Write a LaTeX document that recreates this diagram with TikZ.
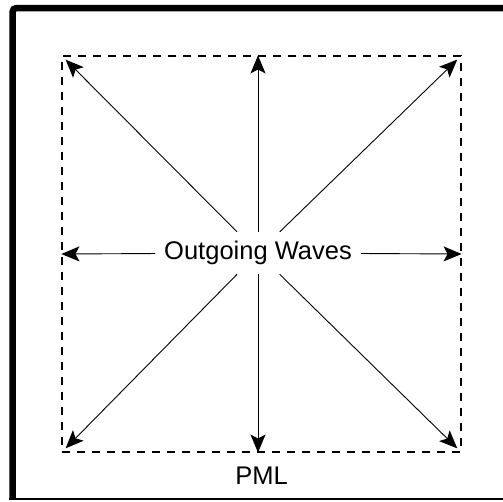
\documentclass[tikz,border=0pt]{standalone}
\usepackage{fontspec}
\setmainfont{Liberation Sans}
\usetikzlibrary{arrows.meta, positioning}

\begin{document}
\begin{tikzpicture}[x=1pt, y=-1pt,
  wave/.style={-{Stealth[length=18pt, width=15pt, inset=4pt]}, line width=0.9pt},
  lbl/.style={font=\fontsize{25.5}{30}\selectfont, inner sep=0pt}]
\useasboundingbox (0,0) rectangle (503,501);
% frame
\draw[line width=6.5pt, rounded corners=4pt] (503,8)--(12.5,8)--(12.5,498);
\draw[line width=2pt] (9.25,499)--(503,499);
% absorbing layer
\node[draw, dash pattern=on 8pt off 7pt, line width=1.1pt, minimum width=399pt, minimum height=396pt, inner sep=0pt] (pml) at (261.5,254) {};
\node[lbl, below=14pt of pml.south] (pmllbl) {PML};
% source
\node[lbl, minimum height=42pt, inner xsep=9pt] (src) at (258,253) {Outgoing Waves};
\foreach \c in {north west, north east, south west, south east}
  \draw[wave, shorten >=6pt] (src) -- (pml.\c);
\foreach \c in {west, east}
  \draw[wave] (src) -- (pml.\c);
\foreach \c in {north, south}
  \draw[wave] (src.\c) -- (src.\c |- pml.\c);
\end{tikzpicture}
\end{document}
